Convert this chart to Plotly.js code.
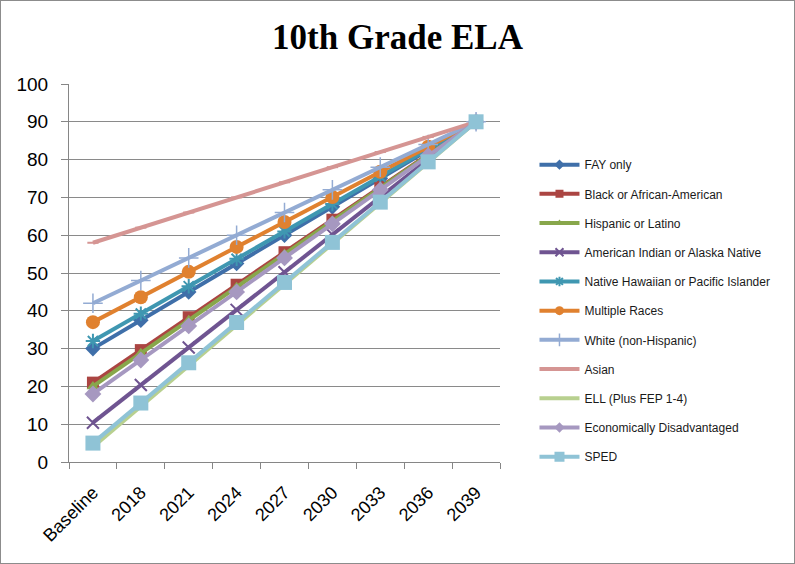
<!DOCTYPE html>
<html>
<head>
<meta charset="utf-8">
<script src="https://cdn.plot.ly/plotly-3.0.1.min.js"></script>
<style>
  html, body { margin: 0; padding: 0; background: #fff; }
  #wrap { position: relative; width: 795px; height: 564px; }
  #chart { width: 795px; height: 564px; }
  #frame { position: absolute; left: 0; top: 0; width: 793px; height: 562px;
           border: 1px solid #8c8c8c; pointer-events: none; }
</style>
</head>
<body>
<div id="wrap">
  <div id="chart"></div>
  <div id="frame"></div>
</div>
<script>
// Target trajectories for 10th grade ELA proficiency, baseline through 2039
const years = ["Baseline", "2018", "2021", "2024", "2027", "2030", "2033", "2036", "2039"];

const fayOnly        = [30, 37.5, 45, 52.5, 60, 67.5, 75, 82.5, 90];
const black          = [21, 29.6, 38.3, 46.9, 55.5, 64.1, 72.8, 81.4, 90];
const hispanic       = [20, 28.75, 37.5, 46.25, 55, 63.75, 72.5, 81.25, 90];
const amIndian       = [10.4, 20.35, 30.3, 40.25, 50.2, 60.15, 70.1, 80.05, 90];
const hawaiian       = [32, 39.25, 46.5, 53.75, 61, 68.25, 75.5, 82.75, 90];
const multipleRaces  = [37, 43.6, 50.3, 56.9, 63.5, 70.1, 76.8, 83.4, 90];
const white          = [42, 48, 54, 60, 66, 72, 78, 84, 90];
const asian          = [58, 62, 66, 70, 74, 78, 82, 86, 90];
const ell            = [4, 14.75, 25.5, 36.25, 47, 57.75, 68.5, 79.25, 90];
const econDisadv     = [18, 27, 36, 45, 54, 63, 72, 81, 90];
const sped           = [5, 15.6, 26.25, 36.9, 47.5, 58.1, 68.75, 79.4, 90];

const seriesNames = [
  "FAY only", "Black or African-American", "Hispanic or Latino",
  "American Indian or Alaska Native", "Native Hawaiian or Pacific Islander",
  "Multiple Races", "White (non-Hispanic)", "Asian", "ELL (Plus FEP 1-4)",
  "Economically Disadvantaged", "SPED"
];
const seriesValues = [fayOnly, black, hispanic, amIndian, hawaiian, multipleRaces,
                      white, asian, ell, econDisadv, sped];

const styles = [
  { color: "#3f6fa9", marker: { symbol: "diamond", size: 12 } },
  { color: "#ab4542", marker: { symbol: "square", size: 12 } },
  { color: "#88a74b", marker: { symbol: "triangle-up", size: 11 } },
  { color: "#6f5491", marker: { symbol: "x-thin-open", size: 12, line: { width: 2 } } },
  { color: "#3f97b1", marker: { symbol: "asterisk-open", size: 12, line: { width: 2 } } },
  { color: "#e0812f", marker: { symbol: "circle", size: 14 } },
  { color: "#93abd3", marker: { symbol: "cross-thin-open", size: 14, line: { width: 1.5 } } },
  { color: "#d59593", marker: { symbol: "line-ew-open", size: 8, line: { width: 2 } } },
  { color: "#b8d08f", marker: { symbol: "circle", size: 1 } },
  { color: "#a698c0", marker: { symbol: "diamond", size: 13 } },
  { color: "#8fc3d6", marker: { symbol: "square", size: 15 } }
];

function markerFor(st, scale) {
  const mk = Object.assign({}, st.marker, { color: st.color });
  mk.size = Math.max(1, Math.round(st.marker.size * scale));
  if (st.marker.line) mk.line = Object.assign({ color: st.color }, st.marker.line);
  return mk;
}

// Plotted series (legend drawn separately with smaller key symbols)
const traces = seriesNames.map((name, i) => ({
  type: "scatter",
  mode: "lines+markers",
  name: name,
  x: years,
  y: seriesValues[i],
  line: { color: styles[i].color, width: 4 },
  marker: markerFor(styles[i], 1),
  showlegend: false,
  legendgroup: "g" + i
}));

// Legend keys: same names and styles, compact symbols
const keys = seriesNames.map((name, i) => ({
  type: "scatter",
  mode: "lines+markers",
  name: name,
  x: [null],
  y: [null],
  line: { color: styles[i].color, width: 4 },
  marker: markerFor(styles[i], 0.65),
  showlegend: true,
  legendgroup: "g" + i
}));

const layout = {
  width: 795,
  height: 564,
  paper_bgcolor: "#ffffff",
  plot_bgcolor: "#ffffff",
  margin: { l: 69, r: 295, t: 84, b: 102 },
  title: {
    text: "<b>10th Grade ELA</b>",
    font: { family: "Liberation Serif, Times New Roman, serif", size: 35, color: "#000" },
    x: 0.5, xanchor: "center", y: 0.935, yanchor: "middle"
  },
  showlegend: true,
  legend: {
    x: 1.08, xanchor: "left",
    y: 0.825, yanchor: "top",
    traceorder: "grouped",
    tracegroupgap: 10.2,
    itemwidth: 40,
    font: { family: "Liberation Sans, Arial, sans-serif", size: 12, color: "#1a1a1a" },
    bgcolor: "rgba(0,0,0,0)"
  },
  xaxis: {
    type: "category",
    range: [-0.5, 8.5],
    tickangle: -45,
    tickson: "boundaries",
    ticks: "outside",
    ticklen: 6,
    tickcolor: "#868686",
    ticklabelstandoff: 12,
    showline: true,
    linecolor: "#868686",
    linewidth: 1,
    showgrid: false,
    zeroline: false,
    tickfont: { family: "Liberation Sans, Arial, sans-serif", size: 18, color: "#000" }
  },
  yaxis: {
    range: [0, 100],
    dtick: 10,
    ticks: "outside",
    ticklen: 7,
    tickcolor: "#868686",
    ticklabelstandoff: 9,
    showline: true,
    linecolor: "#868686",
    linewidth: 1,
    showgrid: true,
    gridcolor: "#8a8a8a",
    gridwidth: 1,
    zeroline: false,
    tickfont: { family: "Liberation Sans, Arial, sans-serif", size: 19, color: "#000" }
  }
};

Plotly.newPlot("chart", traces.concat(keys), layout, { displayModeBar: false, staticPlot: true });
</script>
</body>
</html>
